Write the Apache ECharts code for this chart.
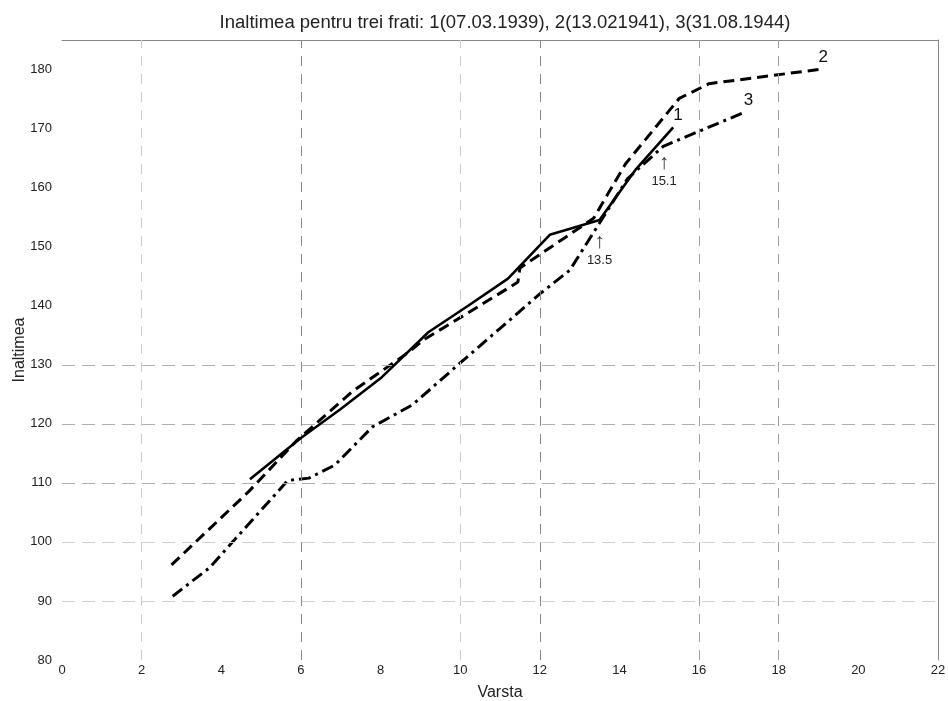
<!DOCTYPE html>
<html>
<head>
<meta charset="utf-8">
<script src="https://cdn.jsdelivr.net/npm/echarts@6/dist/echarts.min.js"></script>
<style>html,body{margin:0;padding:0;background:#fff;}#c{width:948px;height:701px;}</style>
</head>
<body>
<div id="c"></div>
<script>
// ---- data ----
const titleText = 'Inaltimea pentru trei frati: 1(07.03.1939), 2(13.021941), 3(31.08.1944)';
const xName = 'Varsta';
const yName = 'Inaltimea';

const ages1    = [4.72, 6.0, 7.0, 8.0, 9.2, 10.2, 11.2, 12.25, 13.5, 14.4, 15.35];
const heights1 = [110.6, 117.6, 122.5, 127.7, 135.5, 140.0, 144.6, 152.0, 154.5, 163.0, 170.2];

const ages2    = [2.75, 4.7, 5.9, 7.3, 8.7, 9.1, 10.2, 11.45, 11.5, 13.35, 14.15, 15.5, 16.25, 19.0];
const heights2 = [96.1, 108.6, 117.2, 125.5, 132.1, 134.3, 138.8, 144.0, 146.4, 154.8, 164.0, 175.1, 177.6, 180.0];

const ages3    = [2.78, 3.7, 5.67, 6.2, 6.85, 7.8, 8.8, 10.0, 12.0, 12.75, 13.5, 14.2, 15.1, 17.12];
const heights3 = [90.8, 95.6, 110.4, 110.8, 113.0, 119.5, 123.2, 130.3, 142.0, 146.0, 154.0, 161.5, 167.0, 172.7];

const seriesNames = ['1', '2', '3'];

const vGridValues = [2, 6, 10, 12, 16, 18];
const vGridColors = ['#cccccc', '#888888', '#cccccc', '#888888', '#a0a0a0', '#a0a0a0'];
const hGridValues = [90, 100, 110, 120, 130];
const hGridColors = ['#d0d0d0', '#d0d0d0', '#b0b0b0', '#b0b0b0', '#b0b0b0'];

const annotX = [13.5, 15.12];
const annotY = [149.2, 162.6];
const annotText = ['13.5', '15.1'];

// ---- chart ----
const font = 'Liberation Sans, Arial, sans-serif';
const zip = (a, b) => a.map((v, i) => [v, b[i]]);

const gridLines = [];
vGridValues.forEach((v, i) => gridLines.push({ xAxis: v, lineStyle: { color: vGridColors[i], type: [10, 8], width: 1 } }));
hGridValues.forEach((v, i) => gridLines.push({ yAxis: v, lineStyle: { color: hGridColors[i], type: [13, 7], width: 1 } }));

const endLbl = (txt, off) => ({
  show: true, formatter: txt, fontFamily: font, fontSize: 17, color: '#111',
  distance: 2, offset: off
});

const chart = echarts.init(document.getElementById('c'), null, { renderer: 'canvas' });
chart.setOption({
  animation: false,
  backgroundColor: '#fff',
  title: {
    text: titleText, left: 500, top: 8, textAlign: 'center',
    textStyle: { fontFamily: font, fontSize: 18.5, fontWeight: 'normal', color: '#222' }
  },
  grid: { left: 62, right: 10, top: 40, bottom: 41, containLabel: false, outerBoundsMode: 'none' },
  xAxis: [{
    type: 'value', min: 0, max: 22, interval: 2,
    name: xName, nameLocation: 'middle', nameGap: 25,
    nameTextStyle: { fontFamily: font, fontSize: 16, color: '#222' },
    axisLine: { show: false }, axisTick: { show: false }, splitLine: { show: false },
    axisLabel: { fontFamily: font, fontSize: 13, color: '#222', margin: 4 }
  }, {
    type: 'value', min: 0, max: 22, position: 'top',
    axisLine: { show: true, onZero: false, lineStyle: { color: '#888', width: 1 } },
    axisTick: { show: false }, axisLabel: { show: false }, splitLine: { show: false }
  }],
  yAxis: [{
    type: 'value', min: 80, max: 185, interval: 10,
    name: yName, nameLocation: 'middle', nameGap: 34, nameMoveOverlap: false,
    nameTextStyle: { fontFamily: font, fontSize: 16, color: '#222' },
    axisLine: { show: false }, axisTick: { show: false }, splitLine: { show: false },
    axisLabel: { fontFamily: font, fontSize: 13, color: '#222', margin: 10, showMaxLabel: false }
  }, {
    type: 'value', min: 80, max: 185, position: 'right',
    axisLine: { show: true, onZero: false, lineStyle: { color: '#888', width: 1 } },
    axisTick: { show: false }, axisLabel: { show: false }, splitLine: { show: false }
  }],
  series: [
    {
      type: 'line', data: [], silent: true,
      markLine: { silent: true, symbol: 'none', label: { show: false }, animation: false, data: gridLines }
    },
    {
      name: seriesNames[0], type: 'line', data: zip(ages1, heights1), showSymbol: false, symbol: 'none',
      lineStyle: { color: '#000', width: 2.6, type: 'solid' },
      endLabel: endLbl(seriesNames[0], [-2, -12]), z: 5
    },
    {
      name: seriesNames[1], type: 'line', data: zip(ages2, heights2), showSymbol: false, symbol: 'none',
      lineStyle: { color: '#000', width: 3, type: [11, 6] },
      endLabel: endLbl(seriesNames[1], [-2, -12]), z: 4
    },
    {
      name: seriesNames[2], type: 'line', data: zip(ages3, heights3), showSymbol: false, symbol: 'none',
      lineStyle: { color: '#000', width: 3, type: [12, 5, 3, 5] },
      endLabel: endLbl(seriesNames[2], [-2, -12]), z: 3,
      markPoint: {
        silent: true, symbol: 'circle', symbolSize: 0,
        label: {
          show: true, position: 'inside', fontFamily: font, fontSize: 13, color: '#222', lineHeight: 18,
          formatter: p => '{a|↑}\n' + p.name,
          rich: { a: { fontSize: 21, lineHeight: 18, color: '#333' } }
        },
        data: annotX.map((x, i) => ({ name: annotText[i], coord: [x, annotY[i]] }))
      }
    }
  ]
});
</script>
</body>
</html>
